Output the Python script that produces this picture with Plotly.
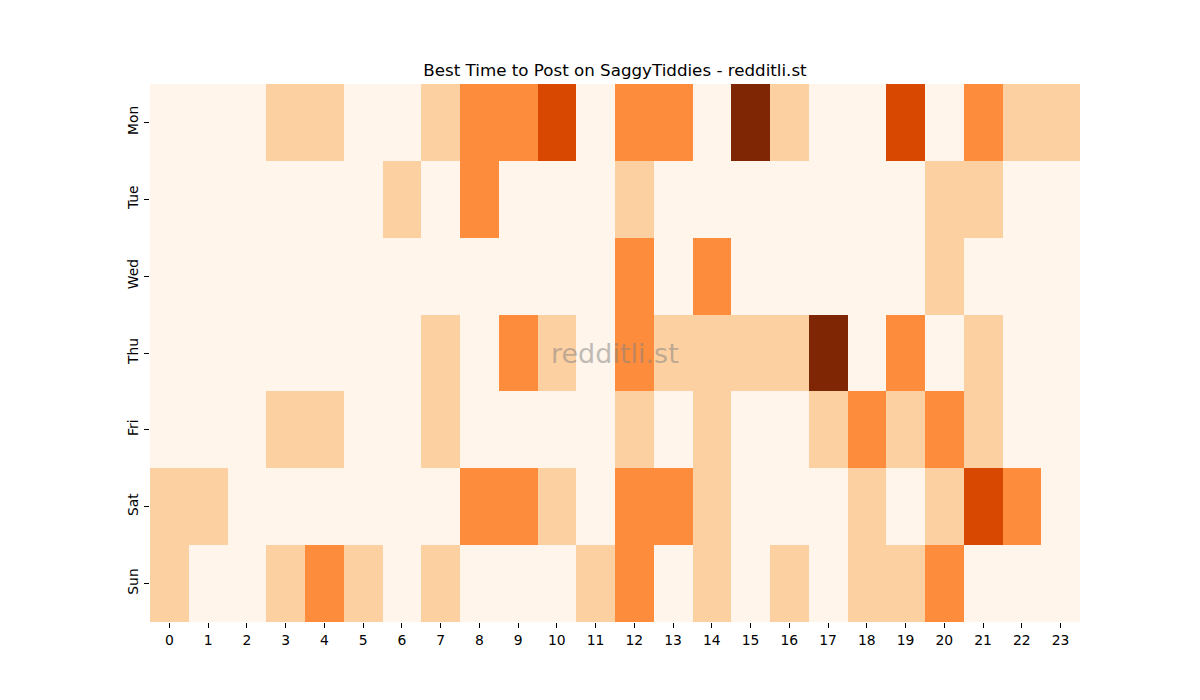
import plotly.graph_objects as go

days = ["Mon", "Tue", "Wed", "Thu", "Fri", "Sat", "Sun"]
hours = list(range(24))

mon = [0, 0, 0, 1, 1, 0, 0, 1, 2, 2, 3, 0, 2, 2, 0, 4, 1, 0, 0, 3, 0, 2, 1, 1]
tue = [0, 0, 0, 0, 0, 0, 1, 0, 2, 0, 0, 0, 1, 0, 0, 0, 0, 0, 0, 0, 1, 1, 0, 0]
wed = [0, 0, 0, 0, 0, 0, 0, 0, 0, 0, 0, 0, 2, 0, 2, 0, 0, 0, 0, 0, 1, 0, 0, 0]
thu = [0, 0, 0, 0, 0, 0, 0, 1, 0, 2, 1, 0, 2, 1, 1, 1, 1, 4, 0, 2, 0, 1, 0, 0]
fri = [0, 0, 0, 1, 1, 0, 0, 1, 0, 0, 0, 0, 1, 0, 1, 0, 0, 1, 2, 1, 2, 1, 0, 0]
sat = [1, 1, 0, 0, 0, 0, 0, 0, 2, 2, 1, 0, 2, 2, 1, 0, 0, 0, 1, 0, 1, 3, 2, 0]
sun = [1, 0, 0, 1, 2, 1, 0, 1, 0, 0, 0, 1, 2, 0, 1, 0, 1, 0, 1, 1, 2, 0, 0, 0]

z = [mon, tue, wed, thu, fri, sat, sun]

colorscale = [
    [0.0, "#fff5eb"],
    [0.25, "#fdd0a2"],
    [0.5, "#fd8d3c"],
    [0.75, "#d94801"],
    [1.0, "#7f2704"],
]

fig = go.Figure(
    go.Heatmap(
        z=z,
        x=hours,
        y=days,
        colorscale=colorscale,
        zmin=0,
        zmax=4,
        showscale=False,
        xgap=0,
        ygap=0,
    )
)

font = "DejaVu Sans, Arial, sans-serif"

fig.update_layout(
    width=1200,
    height=700,
    paper_bgcolor="white",
    plot_bgcolor="white",
    margin=dict(l=142, r=128, t=76, b=86),
    title=dict(
        text="Best Time to Post on SaggyTiddies - redditli.st",
        x=607 / 1200,
        xanchor="center",
        y=1 - 62 / 700,
        yanchor="middle",
        font=dict(family=font, size=16.7, color="black"),
    ),
    font=dict(family=font, size=13.9, color="black"),
    annotations=[
        dict(
            text="redditli.st",
            xref="paper",
            yref="paper",
            x=0.5,
            y=0.5,
            showarrow=False,
            font=dict(family=font, size=27, color="rgba(128,128,128,0.5)"),
        )
    ],
)

fig.update_xaxes(
    tickmode="array",
    tickvals=hours,
    ticktext=[str(h) for h in hours],
    ticks="outside",
    ticklen=5,
    tickcolor="black",
    showgrid=False,
    zeroline=False,
    showline=False,
    tickfont=dict(family=font, size=13.9, color="black"),
)
fig.update_yaxes(
    autorange="reversed",
    ticks="outside",
    ticklen=5,
    tickcolor="black",
    tickangle=-90,
    ticklabelstandoff=0,
    showgrid=False,
    zeroline=False,
    showline=False,
    tickfont=dict(family=font, size=13.9, color="black"),
)

fig.write_html("out.html")
